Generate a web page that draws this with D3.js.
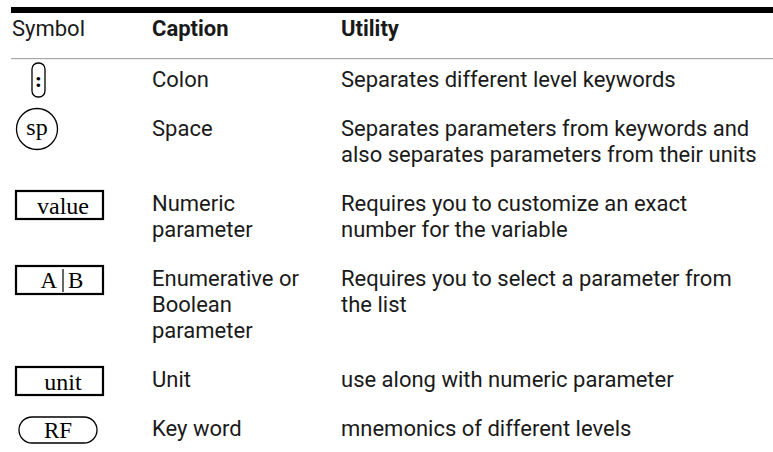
<!DOCTYPE html>
<html>
<head>
<meta charset="utf-8">
<script src="https://cdn.jsdelivr.net/npm/d3@7"></script>
<style>
  html, body { margin: 0; padding: 0; background: #fff; }
  svg { display: block; }
</style>
</head>
<body>
<svg id="chart" width="773" height="452"></svg>
<script>
// ---- data ----
const headers = ["Symbol", "Caption", "Utility"];
const symbols = [":", "sp", "value", "A|B", "unit", "RF"];
const symbolShapes = ["pill-v", "circle", "box", "box-split", "box", "pill-h"];
const captions = [
  ["Colon"],
  ["Space"],
  ["Numeric", "parameter"],
  ["Enumerative or", "Boolean", "parameter"],
  ["Unit"],
  ["Key word"]
];
const utilities = [
  ["Separates different level keywords"],
  ["Separates parameters from keywords and", "also separates parameters from their units"],
  ["Requires you to customize an exact", "number for the variable"],
  ["Requires you to select a parameter from", "the list"],
  ["use along with numeric parameter"],
  ["mnemonics of different levels"]
];

// ---- layout ----
const W = 773;
const svg = d3.select("#chart");
const sans = "Roboto, 'Noto Sans', sans-serif";
const serif = "'Liberation Serif', 'DejaVu Serif', serif";
const fs = 22, lineH = 26, rowGap = 49;
const colX = d3.scaleOrdinal().domain(headers).range([12, 152, 341]);
const ink = "#1a1a1a";

// top rule
svg.append("rect").attr("x", 11).attr("y", 7).attr("width", W - 11).attr("height", 6).attr("fill", "#000");
// header
svg.selectAll("text.hdr").data(headers).join("text")
  .attr("class", "hdr")
  .attr("x", d => colX(d)).attr("y", 36)
  .attr("font-family", sans).attr("font-size", fs)
  .attr("font-weight", (d, i) => i === 0 ? 400 : 700)
  .attr("fill", ink)
  .text(d => d);
// header separator
svg.append("rect").attr("x", 11).attr("y", 58).attr("width", W - 11).attr("height", 1.2).attr("fill", "#a8a8a8");

// compute row baselines
const rows = symbols.map((s, i) => ({
  sym: s, shape: symbolShapes[i], cap: captions[i], util: utilities[i],
  n: Math.max(captions[i].length, utilities[i].length)
}));
let yb = 87;
rows.forEach(r => { r.y = yb; yb += (r.n - 1) * lineH + rowGap; });

const g = svg.selectAll("g.row").data(rows).join("g").attr("class", "row")
  .attr("transform", d => `translate(0,${d.y})`);

// caption lines
g.selectAll("text.cap").data(d => d.cap).join("text")
  .attr("class", "cap")
  .attr("x", colX("Caption")).attr("y", (d, i) => i * lineH)
  .attr("font-family", sans).attr("font-size", fs).attr("fill", ink)
  .text(d => d);
// utility lines
g.selectAll("text.util").data(d => d.util).join("text")
  .attr("class", "util")
  .attr("x", colX("Utility")).attr("y", (d, i) => i * lineH)
  .attr("font-family", sans).attr("font-size", fs).attr("fill", ink)
  .text(d => d);

// symbols
g.each(function(d) {
  const s = d3.select(this);
  if (d.shape === "pill-v") {
    s.append("rect").attr("x", 32).attr("y", -24).attr("width", 13).attr("height", 34).attr("rx", 6)
      .attr("fill", "none").attr("stroke", "#000").attr("stroke-width", 1.3);
    s.append("text").attr("x", 38.5).attr("y", 0).attr("text-anchor", "middle")
      .attr("font-family", serif).attr("font-size", 22).attr("font-weight", 700).text(d.sym);
  } else if (d.shape === "circle") {
    s.append("circle").attr("cx", 37).attr("cy", -7).attr("r", 20.5)
      .attr("fill", "none").attr("stroke", "#000").attr("stroke-width", 1.3);
    s.append("text").attr("x", 37).attr("y", -1).attr("text-anchor", "middle")
      .attr("font-family", serif).attr("font-size", 24).text(d.sym);
  } else if (d.shape === "box" || d.shape === "box-split") {
    s.append("rect").attr("x", 16).attr("y", -20).attr("width", 87).attr("height", 28)
      .attr("fill", "none").attr("stroke", "#000").attr("stroke-width", 2.2);
    if (d.shape === "box") {
      s.append("text").attr("x", 63).attr("y", 3).attr("text-anchor", "middle")
        .attr("font-family", serif).attr("font-size", 24).text(d.sym);
    } else {
      const parts = d.sym.split("|");
      s.append("text").attr("x", 57).attr("y", 2).attr("text-anchor", "end")
        .attr("font-family", serif).attr("font-size", 23).text(parts[0]);
      s.append("line").attr("x1", 63).attr("x2", 63).attr("y1", -17).attr("y2", 6)
        .attr("stroke", "#000").attr("stroke-width", 1.2);
      s.append("text").attr("x", 68).attr("y", 2).attr("text-anchor", "start")
        .attr("font-family", serif).attr("font-size", 23).text(parts[1]);
    }
  } else if (d.shape === "pill-h") {
    s.append("rect").attr("x", 19).attr("y", -19).attr("width", 78).attr("height", 26).attr("rx", 13)
      .attr("fill", "none").attr("stroke", "#000").attr("stroke-width", 1.3);
    s.append("text").attr("x", 58).attr("y", 2).attr("text-anchor", "middle")
      .attr("font-family", serif).attr("font-size", 23).text(d.sym);
  }
});
</script>
</body>
</html>
